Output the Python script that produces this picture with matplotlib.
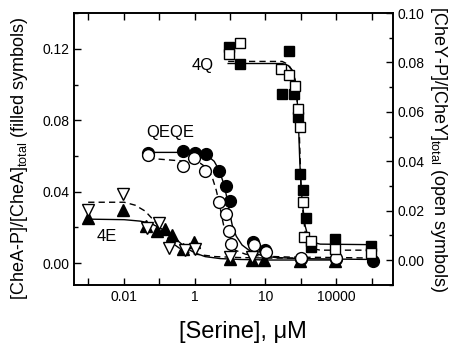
import numpy as np
import matplotlib
matplotlib.use('Agg')
import matplotlib.pyplot as plt
from matplotlib.ticker import FixedLocator, MultipleLocator, NullLocator

plt.rcParams['font.family'] = ['Liberation Sans', 'DejaVu Sans']
plt.rcParams['mathtext.fontset'] = 'custom'
plt.rcParams['mathtext.rm'] = 'Liberation Sans'
plt.rcParams['mathtext.it'] = 'Liberation Sans:italic'

# 4E: filled triangles (CheA-P, left), open triangles (CheY-P, right)
e_x_a = [0.001, 0.0097, 0.043, 0.088, 0.15, 0.23, 0.48, 0.97, 10, 42, 90, 960, 9000]
e_y_a = [0.0252, 0.0296, 0.0207, 0.0179, 0.019, 0.0157, 0.0078, 0.0117, 0.0022, 0.0017, 0.0017, 0.0011, 0.0011]
e_x_y = [0.001, 0.0097, 0.046, 0.1, 0.19, 0.54, 1.0, 10, 42]
e_y_y = [0.0202, 0.0267, 0.0129, 0.0149, 0.0048, 0.004, 0.0044, 0.0012, 0.0012]

# QEQE: circles
q_x_a = [0.049, 0.47, 1.03, 2.1, 4.9, 7.7, 10, 44, 98, 1000, 10000, 107000]
q_y_a = [0.0615, 0.0626, 0.0615, 0.061, 0.0514, 0.043, 0.0347, 0.0117, 0.0073, 0.002, 0.002, 0.001]
q_x_y = [0.049, 0.48, 0.97, 2.0, 4.9, 7.7, 9.3, 10.5, 48, 102, 1000, 10000]
q_y_y = [0.0424, 0.038, 0.0412, 0.036, 0.0234, 0.0186, 0.0117, 0.0065, 0.0061, 0.0032, 0.0008, 0.0008]

# 4Q: squares
s_x_a = [9.3, 19, 457, 290, 630, 830, 940, 1150, 1380, 1900, 9100, 93000]
s_y_a = [0.1208, 0.1118, 0.119, 0.0945, 0.0945, 0.0816, 0.0497, 0.0408, 0.0252, 0.0089, 0.0134, 0.0095]
s_x_y = [9.3, 19, 275, 457, 680, 830, 940, 1150, 1230, 1900, 9100, 93000]
s_y_y = [0.0836, 0.088, 0.0772, 0.0751, 0.0703, 0.061, 0.0537, 0.0234, 0.0093, 0.0077, 0.0044, 0.0028]

# fitted curves
e_fit_x_a = [0.001, 0.0104, 0.029, 0.056, 0.108, 0.206, 0.347, 0.582, 1.04, 2.0, 5.3, 19.5, 138, 955, 9300]
e_fit_y_a = [0.0246, 0.0243, 0.0235, 0.0224, 0.0196, 0.0162, 0.0123, 0.0084, 0.0056, 0.0036, 0.0025, 0.002, 0.0017, 0.0017, 0.0017]
e_fit_x_y = [0.001, 0.0104, 0.0212, 0.0407, 0.078, 0.13, 0.234, 0.45, 1.04, 3.8, 19.5, 138, 955]
e_fit_y_y = [0.0234, 0.0234, 0.0222, 0.0198, 0.0154, 0.0109, 0.0069, 0.004, 0.0024, 0.0014, 0.001, 0.0008, 0.0008]

q_fit_x_a = [0.0493, 0.755, 1.45, 2.43, 3.59, 4.97, 6.45, 7.8, 9.5, 11.6, 15, 22, 37, 71, 189, 960, 12900, 103000]
q_fit_y_a = [0.062, 0.062, 0.0615, 0.0598, 0.057, 0.052, 0.0453, 0.0386, 0.0296, 0.0212, 0.0151, 0.0101, 0.0067, 0.0045, 0.0031, 0.0025, 0.0022, 0.002]
q_fit_x_y = [0.0493, 0.545, 1.45, 2.28, 3.16, 4.1, 5.0, 6.0, 7.3, 9.5, 14, 27, 71, 500, 12900, 103000]
q_fit_y_y = [0.0412, 0.040, 0.0392, 0.0372, 0.0335, 0.0283, 0.023, 0.017, 0.0113, 0.0069, 0.004, 0.0024, 0.0016, 0.0012, 0.001, 0.0008]

s_fit_x_a = [8.9, 298, 440, 570, 692, 789, 870, 930, 1024, 1166, 1328, 1614, 2093, 3515, 103000]
s_fit_y_a = [0.1118, 0.1118, 0.1107, 0.1079, 0.1023, 0.0911, 0.0743, 0.0576, 0.0408, 0.0296, 0.0207, 0.0145, 0.0117, 0.0106, 0.0103]
s_fit_x_y = [8.9, 298, 440, 570, 692, 789, 900, 960, 1024, 1166, 1328, 1614, 2200, 3515, 103000]
s_fit_y_y = [0.0804, 0.0804, 0.0792, 0.0768, 0.0727, 0.0646, 0.0525, 0.0404, 0.0283, 0.0182, 0.0113, 0.0069, 0.0046, 0.004, 0.004]

x_tick_pos = [0.01, 1, 100, 10000]
x_tick_lab = ['0.01', '1', '10', '10000']

fig = plt.figure(figsize=(4.64, 3.51), dpi=100)
ax = fig.add_axes([74/464, 1-285/351, 319/464, 272/351])
ax2 = ax.twinx()

dash = (0, (4.5, 3))
ax.plot(e_fit_x_a, e_fit_y_a, color='black', lw=1)
ax.plot(q_fit_x_a, q_fit_y_a, color='black', lw=1)
ax.plot(s_fit_x_a, s_fit_y_a, color='black', lw=1)
ax2.plot(e_fit_x_y, e_fit_y_y, color='black', lw=1, ls=dash)
ax2.plot(q_fit_x_y, q_fit_y_y, color='black', lw=1, ls=dash)
ax2.plot(s_fit_x_y, s_fit_y_y, color='black', lw=1, ls=dash)

ax.plot(e_x_a, e_y_a, ls='none', marker='^', ms=8.5, mfc='black', mec='black')
ax.plot(q_x_a, q_y_a, ls='none', marker='o', ms=8.5, mfc='black', mec='black')
ax.plot(s_x_a, s_y_a, ls='none', marker='s', ms=7.5, mfc='black', mec='black')
ax2.plot(e_x_y, e_y_y, ls='none', marker='v', ms=8.5, mfc='white', mec='black', mew=1)
ax2.plot(q_x_y, q_y_y, ls='none', marker='o', ms=8.5, mfc='white', mec='black', mew=1)
ax2.plot(s_x_y, s_y_y, ls='none', marker='s', ms=7.5, mfc='white', mec='black', mew=1)

ax.set_xscale('log')
ax.set_xlim(10**-3.4, 10**5.6)
ax.set_ylim(-0.0123, 0.1401)
ax2.set_ylim(-0.0101, 0.100)

ax.xaxis.set_major_locator(FixedLocator([10.0**k for k in range(-3, 6)]))
ax.xaxis.set_minor_locator(NullLocator())
ax.set_xticklabels(['' if 10.0**k not in x_tick_pos else x_tick_lab[x_tick_pos.index(10.0**k)]
                    for k in range(-3, 6)])
ax.yaxis.set_major_locator(MultipleLocator(0.04))
ax.yaxis.set_minor_locator(MultipleLocator(0.02))
ax.yaxis.set_major_formatter(plt.FormatStrFormatter('%.2f'))
ax2.yaxis.set_major_locator(MultipleLocator(0.02))
ax2.yaxis.set_minor_locator(MultipleLocator(0.01))
ax2.yaxis.set_major_formatter(plt.FormatStrFormatter('%.2f'))

ax.tick_params(which='both', direction='in', top=True, right=False, labelsize=10, width=1)
ax.tick_params(which='major', length=5)
ax.tick_params(which='minor', length=3)
ax2.tick_params(which='both', direction='in', labelsize=10, width=1)
ax2.tick_params(which='major', length=5)
ax2.tick_params(which='minor', length=3)
for a in (ax, ax2):
    for sp in a.spines.values():
        sp.set_linewidth(1.2)

ax.set_xlabel('[Serine], μM', fontsize=17, labelpad=12)
ax.xaxis.label.set_x(0.531)
ax.set_ylabel('[CheA-P]/[CheA]$_{\\mathrm{total}}$ (filled symbols)', fontsize=13, labelpad=9)
ax.yaxis.label.set_y(0.467)
ax2.set_ylabel('[CheY-P]/[CheY]$_{\\mathrm{total}}$ (open symbols)', fontsize=13, rotation=270, labelpad=17)

ax.text(1.65, 0.1107, '4Q', fontsize=12, ha='center', va='center')
ax.text(0.206, 0.0732, 'QEQE', fontsize=12, ha='center', va='center')
ax.text(0.0034, 0.0151, '4E', fontsize=12, ha='center', va='center')

fig.savefig('out.png', dpi=100)
